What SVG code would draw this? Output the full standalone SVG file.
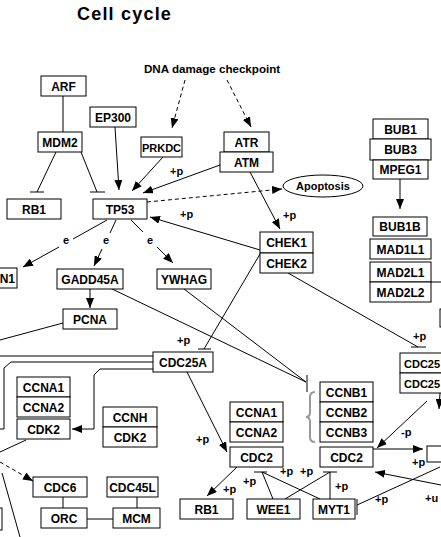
<svg xmlns="http://www.w3.org/2000/svg" width="441" height="537" viewBox="0 0 441 537">
<style>
.n rect{fill:#fff;stroke:#000;stroke-width:1}
.n text{font-family:"Liberation Sans",Arial,sans-serif;font-weight:bold;font-size:12px;text-anchor:middle;fill:#000}
.n text.s{font-size:11px}
.c path{fill:none;stroke:#000;stroke-width:1}
.c path.d{stroke-dasharray:4,3}
.l{font-family:"Liberation Sans",Arial,sans-serif;font-weight:bold;font-size:11px;fill:#000}
.title{font-family:"Liberation Sans",Arial,sans-serif;font-weight:bold;font-size:18px;letter-spacing:1.2px;fill:#000}
</style>
<defs>
<marker id="a" markerUnits="userSpaceOnUse" viewBox="0 0 10 8" refX="10" refY="4" markerWidth="10" markerHeight="8" orient="auto"><path d="M0,0 L10,4 L0,8 z" fill="#000"/></marker>
</defs>
<rect width="441" height="537" fill="#fff"/>
<text class="title" x="77" y="20">Cell cycle</text>
<text class="l" x="144" y="73" style="font-size:11.6px">DNA damage checkpoint</text>

<g class="c" id="connectors">
<path d="M63,96 V132"/>
<path d="M56,152 L37,192 M30,192 H44"/>
<path d="M81,152 L97,192 M90,192 H105"/>
<path d="M115,127 L119,190" marker-end="url(#a)"/>
<path d="M163,157 L132,191" marker-end="url(#a)"/>
<path d="M220,165 L143,193" marker-end="url(#a)"/>
<path class="d" d="M185,80 L172,128" marker-end="url(#a)"/>
<path class="d" d="M227,80 L251,127" marker-end="url(#a)"/>
<path d="M250,172 L280,229" marker-end="url(#a)"/>
<path d="M260,250 L150,217" marker-end="url(#a)"/>
<path class="d" d="M147,202 L282,189" marker-end="url(#a)"/>
<path d="M107,220 L73,239"/>
<path d="M59,247 L23,267" marker-end="url(#a)"/>
<path d="M116,220 L110,233"/>
<path d="M102,249 L94,266" marker-end="url(#a)"/>
<path d="M131,220 L143,232"/>
<path d="M157,247 L173,263" marker-end="url(#a)"/>
<path d="M400,179 V209" marker-end="url(#a)"/>
<path d="M90,289 V308" marker-end="url(#a)"/>
<path d="M63,323 L0,340"/>
<path d="M110,288 L306,382"/>
<path d="M184,289 L306,382"/>
<path d="M307,375 V392"/>
<path d="M260,254 L204,349 M198,349 H211"/>
<path d="M288,273 L418,347 M411,347 H426"/>
<path d="M153,356 H0"/>
<path d="M153,362 H11 L4,368 V429 H0"/>
<path d="M153,369 H100 L94,375 V429 H72" marker-end="url(#a)"/>
<path d="M187,372 L227,452" marker-end="url(#a)"/>
<path d="M26,440 L0,452"/>
<path class="d" d="M0,462 L33,481" marker-end="url(#a)"/>
<path d="M2,473 L20,537"/>
<path d="M63,497 V508 M137,497 V508 M87,519 H113"/>
<path d="M237,467 L207,496" marker-end="url(#a)"/>
<path d="M254,472 H267 M262,472 L273,499 M262,472 L320,499"/>
<path d="M323,472 H337 M285,499 L330,472 M330,499 V472"/>
<path d="M427,401 L377,448" marker-end="url(#a)"/>
<path d="M373,449 H423" marker-end="url(#a)"/>
<path d="M441,485 L375,472" marker-end="url(#a)"/>
<path d="M440,467 L357,505 M357,499 V515"/>
<path d="M440,393 L439,409" marker-end="url(#a)"/>
<path d="M431,282 H441"/>
<path d="M315,392 Q310,392 310,397 V412 Q310,417 306,417 Q310,417 310,422 V437 Q310,442 315,442" style="stroke:#999;stroke-width:2"/>
</g>

<g id="labels">
<text class="l" x="170" y="175">+p</text>
<text class="l" x="283" y="219">+p</text>
<text class="l" x="180" y="218">+p</text>
<text class="l" x="63" y="244">e</text>
<text class="l" x="103" y="244">e</text>
<text class="l" x="147" y="244">e</text>
<text class="l" x="177" y="344">+p</text>
<text class="l" x="413" y="340">+p</text>
<text class="l" x="196" y="443">+p</text>
<text class="l" x="223" y="493">+p</text>
<text class="l" x="243" y="485">+p</text>
<text class="l" x="280" y="475">+p</text>
<text class="l" x="300" y="475">+p</text>
<text class="l" x="335" y="490">+p</text>
<text class="l" x="375" y="503">+p</text>
<text class="l" x="412" y="466">+p</text>
<text class="l" x="401" y="436">-p</text>
<text class="l" x="425" y="502">+u</text>
</g>

<g class="n" id="ARF"><rect x="41" y="76" width="45" height="20"/><text x="63.5" y="90.5">ARF</text></g>
<g class="n" id="EP300"><rect x="90" y="107" width="46" height="20"/><text x="113" y="121.5">EP300</text></g>
<g class="n" id="MDM2"><rect x="38" y="132" width="44" height="20"/><text x="60" y="146.5">MDM2</text></g>
<g class="n" id="PRKDC"><rect x="141" y="137" width="41" height="20"/><text class="s" x="161.5" y="151.5">PRKDC</text></g>
<g class="n" id="ATR"><rect x="224" y="132" width="45" height="20"/><text x="246.5" y="146.5">ATR</text></g>
<g class="n" id="ATM"><rect x="220" y="152" width="53" height="20"/><text x="246.5" y="166.5">ATM</text></g>
<g class="n" id="BUB1"><rect x="373" y="119" width="55" height="20"/><text x="400.5" y="133.5">BUB1</text></g>
<g class="n" id="BUB3"><rect x="370" y="139" width="61" height="21"/><text x="400.5" y="154">BUB3</text></g>
<g class="n" id="MPEG1"><rect x="373" y="160" width="55" height="19"/><text x="400.5" y="174">MPEG1</text></g>
<g class="n" id="Apoptosis"><ellipse cx="323" cy="186" rx="40" ry="11" fill="#fff" stroke="#000"/><text x="323" y="190" style="font-size:11px">Apoptosis</text></g>
<g class="n" id="RB1a"><rect x="7" y="199" width="54" height="20"/><text x="34" y="213.5">RB1</text></g>
<g class="n" id="TP53"><rect x="93" y="199" width="54" height="20"/><text x="120" y="213.5">TP53</text></g>
<g class="n" id="CHEK1"><rect x="260" y="232" width="53" height="21"/><text x="286.5" y="247">CHEK1</text></g>
<g class="n" id="CHEK2"><rect x="260" y="253" width="53" height="20"/><text x="286.5" y="267.5">CHEK2</text></g>
<g class="n" id="BUB1B"><rect x="373" y="217" width="54" height="19"/><text x="400" y="231">BUB1B</text></g>
<g class="n" id="MAD1L1"><rect x="370" y="239" width="61" height="20"/><text x="400.5" y="253.5">MAD1L1</text></g>
<g class="n" id="MAD2L1"><rect x="370" y="262" width="61" height="20"/><text x="400.5" y="276.5">MAD2L1</text></g>
<g class="n" id="MAD2L2"><rect x="370" y="282" width="61" height="20"/><text x="400.5" y="296.5">MAD2L2</text></g>
<g class="n" id="N1"><rect x="-50" y="268" width="67" height="20"/><text x="15" y="282.5" style="text-anchor:end">N1</text></g>
<g class="n" id="GADD45A"><rect x="57" y="269" width="66" height="20"/><text x="90" y="283.5">GADD45A</text></g>
<g class="n" id="YWHAG"><rect x="157" y="269" width="54" height="20"/><text x="184" y="283.5">YWHAG</text></g>
<g class="n" id="PCNA"><rect x="63" y="309" width="54" height="20"/><text x="90" y="323.5">PCNA</text></g>
<g class="n" id="RightBox1"><rect x="440" y="309" width="20" height="18"/></g>
<g class="n" id="CDC25A"><rect x="153" y="352" width="60" height="20"/><text x="183" y="366.5">CDC25A</text></g>
<g class="n" id="CDC25B"><rect x="400" y="353" width="60" height="20"/><text class="s" x="404" y="367.5" style="text-anchor:start">CDC25</text></g>
<g class="n" id="CDC25C"><rect x="400" y="373" width="60" height="20"/><text class="s" x="404" y="387.5" style="text-anchor:start">CDC25</text></g>
<g class="n" id="CCNA1a"><rect x="17" y="377" width="53" height="20"/><text x="43.5" y="391.5">CCNA1</text></g>
<g class="n" id="CCNA2a"><rect x="17" y="397" width="53" height="20"/><text x="43.5" y="411.5">CCNA2</text></g>
<g class="n" id="CDK2a"><rect x="17" y="419" width="53" height="20"/><text x="43.5" y="433.5">CDK2</text></g>
<g class="n" id="CCNH"><rect x="103" y="407" width="54" height="20"/><text x="130" y="421.5">CCNH</text></g>
<g class="n" id="CDK2b"><rect x="103" y="427" width="54" height="20"/><text x="130" y="441.5">CDK2</text></g>
<g class="n" id="CCNA1b"><rect x="230" y="402" width="53" height="20"/><text x="256.5" y="416.5">CCNA1</text></g>
<g class="n" id="CCNA2b"><rect x="230" y="422" width="53" height="20"/><text x="256.5" y="436.5">CCNA2</text></g>
<g class="n" id="CDC2a"><rect x="230" y="447" width="53" height="20"/><text x="256.5" y="461.5">CDC2</text></g>
<g class="n" id="CCNB1"><rect x="320" y="382" width="53" height="20"/><text x="346.5" y="396.5">CCNB1</text></g>
<g class="n" id="CCNB2"><rect x="320" y="402" width="53" height="20"/><text x="346.5" y="416.5">CCNB2</text></g>
<g class="n" id="CCNB3"><rect x="320" y="422" width="53" height="20"/><text x="346.5" y="436.5">CCNB3</text></g>
<g class="n" id="CDC2b"><rect x="320" y="447" width="53" height="20"/><text x="346.5" y="461.5">CDC2</text></g>
<g class="n" id="RightBox2"><rect x="427" y="446" width="30" height="16"/></g>
<g class="n" id="CDC6"><rect x="33" y="477" width="54" height="20"/><text x="60" y="491.5">CDC6</text></g>
<g class="n" id="CDC45L"><rect x="107" y="477" width="51" height="20"/><text x="132.5" y="491.5">CDC45L</text></g>
<g class="n" id="RB1b"><rect x="180" y="499" width="53" height="20"/><text x="206.5" y="513.5">RB1</text></g>
<g class="n" id="WEE1"><rect x="247" y="499" width="53" height="20"/><text x="273.5" y="513.5">WEE1</text></g>
<g class="n" id="MYT1"><rect x="313" y="499" width="42" height="20"/><text x="334" y="513.5">MYT1</text></g>
<g class="n" id="LeftBox"><rect x="-60" y="508" width="62" height="22"/></g>
<g class="n" id="ORC"><rect x="41" y="508" width="46" height="20"/><text x="64" y="522.5">ORC</text></g>
<g class="n" id="MCM"><rect x="113" y="508" width="47" height="20"/><text x="136.5" y="522.5">MCM</text></g>
</svg>
